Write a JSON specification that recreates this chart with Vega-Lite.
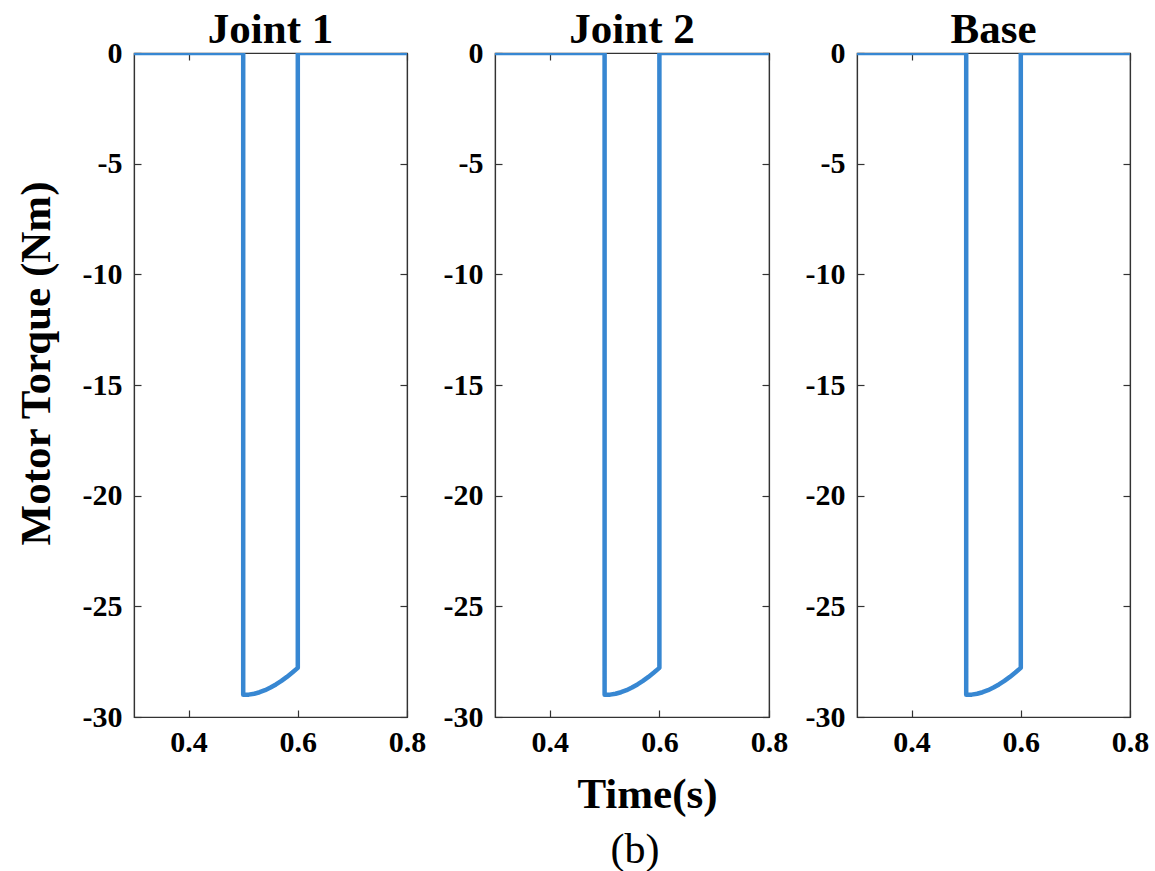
{
  "$schema": "https://vega.github.io/schema/vega-lite/v6.json",
  "background": "white",
  "padding": {"left": 14, "top": 8, "right": 20, "bottom": 10},
  "bounds": "flush",
  "spacing": 88,
  "title": {"text": "(b)", "orient": "bottom", "anchor": "middle", "dx": 53, "font": "Liberation Serif", "fontSize": 42, "fontWeight": "normal", "color": "black", "offset": 13},
  "config": {
    "view": {"stroke": "#333333", "strokeWidth": 1.2},
    "font": "Liberation Serif",
    "axis": {
      "grid": false,
      "domainColor": "#333333",
      "domainWidth": 1.2,
      "tickColor": "#333333",
      "tickWidth": 1.2,
      "tickSize": -7,
      "labelFont": "Liberation Serif",
      "labelFontWeight": "bold",
      "labelFontSize": 30,
      "labelColor": "black",
      "titleFont": "Liberation Serif",
      "titleFontWeight": "bold",
      "titleFontSize": 43,
      "titleColor": "black"
    },
    "title": {"font": "Liberation Serif", "fontWeight": "bold", "fontSize": 43, "color": "black", "offset": -14}
  },
  "datasets": {
    "torque": [
      {"panel": "Joint 1", "i": 1, "t": 0.3, "tau": 0},
      {"panel": "Joint 1", "i": 2, "t": 0.5, "tau": 0},
      {"panel": "Joint 1", "i": 3, "t": 0.5, "tau": -29.0},
      {"panel": "Joint 1", "i": 4, "t": 0.51, "tau": -28.99},
      {"panel": "Joint 1", "i": 5, "t": 0.52, "tau": -28.95},
      {"panel": "Joint 1", "i": 6, "t": 0.53, "tau": -28.88},
      {"panel": "Joint 1", "i": 7, "t": 0.54, "tau": -28.79},
      {"panel": "Joint 1", "i": 8, "t": 0.55, "tau": -28.67},
      {"panel": "Joint 1", "i": 9, "t": 0.56, "tau": -28.53},
      {"panel": "Joint 1", "i": 10, "t": 0.57, "tau": -28.37},
      {"panel": "Joint 1", "i": 11, "t": 0.58, "tau": -28.19},
      {"panel": "Joint 1", "i": 12, "t": 0.59, "tau": -27.99},
      {"panel": "Joint 1", "i": 13, "t": 0.6, "tau": -27.78},
      {"panel": "Joint 1", "i": 14, "t": 0.6, "tau": 0},
      {"panel": "Joint 1", "i": 15, "t": 0.8, "tau": 0},
      {"panel": "Joint 2", "i": 1, "t": 0.3, "tau": 0},
      {"panel": "Joint 2", "i": 2, "t": 0.5, "tau": 0},
      {"panel": "Joint 2", "i": 3, "t": 0.5, "tau": -29.0},
      {"panel": "Joint 2", "i": 4, "t": 0.51, "tau": -28.99},
      {"panel": "Joint 2", "i": 5, "t": 0.52, "tau": -28.95},
      {"panel": "Joint 2", "i": 6, "t": 0.53, "tau": -28.88},
      {"panel": "Joint 2", "i": 7, "t": 0.54, "tau": -28.79},
      {"panel": "Joint 2", "i": 8, "t": 0.55, "tau": -28.67},
      {"panel": "Joint 2", "i": 9, "t": 0.56, "tau": -28.53},
      {"panel": "Joint 2", "i": 10, "t": 0.57, "tau": -28.37},
      {"panel": "Joint 2", "i": 11, "t": 0.58, "tau": -28.19},
      {"panel": "Joint 2", "i": 12, "t": 0.59, "tau": -27.99},
      {"panel": "Joint 2", "i": 13, "t": 0.6, "tau": -27.78},
      {"panel": "Joint 2", "i": 14, "t": 0.6, "tau": 0},
      {"panel": "Joint 2", "i": 15, "t": 0.8, "tau": 0},
      {"panel": "Base", "i": 1, "t": 0.3, "tau": 0},
      {"panel": "Base", "i": 2, "t": 0.5, "tau": 0},
      {"panel": "Base", "i": 3, "t": 0.5, "tau": -29.0},
      {"panel": "Base", "i": 4, "t": 0.51, "tau": -28.99},
      {"panel": "Base", "i": 5, "t": 0.52, "tau": -28.95},
      {"panel": "Base", "i": 6, "t": 0.53, "tau": -28.88},
      {"panel": "Base", "i": 7, "t": 0.54, "tau": -28.79},
      {"panel": "Base", "i": 8, "t": 0.55, "tau": -28.67},
      {"panel": "Base", "i": 9, "t": 0.56, "tau": -28.53},
      {"panel": "Base", "i": 10, "t": 0.57, "tau": -28.37},
      {"panel": "Base", "i": 11, "t": 0.58, "tau": -28.19},
      {"panel": "Base", "i": 12, "t": 0.59, "tau": -27.99},
      {"panel": "Base", "i": 13, "t": 0.6, "tau": -27.78},
      {"panel": "Base", "i": 14, "t": 0.6, "tau": 0},
      {"panel": "Base", "i": 15, "t": 0.8, "tau": 0}
    ]
  },
  "hconcat": [
    {
      "width": 273, "height": 664,
      "title": "Joint 1",
      "data": {"name": "torque"},
      "transform": [{"filter": "datum.panel === 'Joint 1'"}],
      "resolve": {"axis": {"x": "independent", "y": "independent"}},
      "layer": [
        {
          "mark": {"type": "line", "color": "#3787D2", "strokeWidth": 4.5, "strokeJoin": "round", "clip": true},
          "encoding": {
            "x": {"field": "t", "type": "quantitative", "scale": {"domain": [0.3, 0.8], "nice": false, "zero": false}, "axis": {"values": [0.4, 0.6, 0.8], "title": null, "format": ".1f", "labelPadding": 17, "labelDx": -2, "labelFlush": false}},
            "y": {"field": "tau", "type": "quantitative", "scale": {"domain": [-30, 0], "nice": false}, "axis": {"values": [-30, -25, -20, -15, -10, -5, 0], "labelExpr": "replace(datum.label, '\u2212', '-')", "labelPadding": 19, "labelFlush": false, "title": "Motor Torque (Nm)", "titleX": -98, "titleY": 310, "titleAlign": "center", "titleBaseline": "middle", "titleAngle": -90}},
            "order": {"field": "i", "type": "quantitative"}
          }
        },
        {
          "mark": {"type": "line", "strokeOpacity": 0},
          "encoding": {
            "x": {"field": "t", "type": "quantitative", "axis": {"values": [0.4, 0.6, 0.8], "labels": false, "title": null, "orient": "top"}},
            "y": {"field": "tau", "type": "quantitative", "axis": {"values": [-30, -25, -20, -15, -10, -5, 0], "labels": false, "title": null, "orient": "right"}},
            "order": {"field": "i", "type": "quantitative"}
          }
        }
      ]
    },
    {
      "width": 274, "height": 664,
      "title": "Joint 2",
      "data": {"name": "torque"},
      "transform": [{"filter": "datum.panel === 'Joint 2'"}],
      "resolve": {"axis": {"x": "independent", "y": "independent"}},
      "layer": [
        {
          "mark": {"type": "line", "color": "#3787D2", "strokeWidth": 4.5, "strokeJoin": "round", "clip": true},
          "encoding": {
            "x": {"field": "t", "type": "quantitative", "scale": {"domain": [0.3, 0.8], "nice": false, "zero": false}, "axis": {"values": [0.4, 0.6, 0.8], "format": ".1f", "labelPadding": 17, "labelDx": -2, "labelFlush": false, "title": "Time(s)", "titleX": 152, "titleY": 77, "titleAlign": "center", "titleBaseline": "middle"}},
            "y": {"field": "tau", "type": "quantitative", "scale": {"domain": [-30, 0], "nice": false}, "axis": {"values": [-30, -25, -20, -15, -10, -5, 0], "labelExpr": "replace(datum.label, '\u2212', '-')", "labelPadding": 19, "labelFlush": false, "title": null}},
            "order": {"field": "i", "type": "quantitative"}
          }
        },
        {
          "mark": {"type": "line", "strokeOpacity": 0},
          "encoding": {
            "x": {"field": "t", "type": "quantitative", "axis": {"values": [0.4, 0.6, 0.8], "labels": false, "title": null, "orient": "top"}},
            "y": {"field": "tau", "type": "quantitative", "axis": {"values": [-30, -25, -20, -15, -10, -5, 0], "labels": false, "title": null, "orient": "right"}},
            "order": {"field": "i", "type": "quantitative"}
          }
        }
      ]
    },
    {
      "width": 273, "height": 664,
      "title": "Base",
      "data": {"name": "torque"},
      "transform": [{"filter": "datum.panel === 'Base'"}],
      "resolve": {"axis": {"x": "independent", "y": "independent"}},
      "layer": [
        {
          "mark": {"type": "line", "color": "#3787D2", "strokeWidth": 4.5, "strokeJoin": "round", "clip": true},
          "encoding": {
            "x": {"field": "t", "type": "quantitative", "scale": {"domain": [0.3, 0.8], "nice": false, "zero": false}, "axis": {"values": [0.4, 0.6, 0.8], "title": null, "format": ".1f", "labelPadding": 17, "labelDx": -2, "labelFlush": false}},
            "y": {"field": "tau", "type": "quantitative", "scale": {"domain": [-30, 0], "nice": false}, "axis": {"values": [-30, -25, -20, -15, -10, -5, 0], "labelExpr": "replace(datum.label, '\u2212', '-')", "labelPadding": 19, "labelFlush": false, "title": null}},
            "order": {"field": "i", "type": "quantitative"}
          }
        },
        {
          "mark": {"type": "line", "strokeOpacity": 0},
          "encoding": {
            "x": {"field": "t", "type": "quantitative", "axis": {"values": [0.4, 0.6, 0.8], "labels": false, "title": null, "orient": "top"}},
            "y": {"field": "tau", "type": "quantitative", "axis": {"values": [-30, -25, -20, -15, -10, -5, 0], "labels": false, "title": null, "orient": "right"}},
            "order": {"field": "i", "type": "quantitative"}
          }
        }
      ]
    }
  ]
}
